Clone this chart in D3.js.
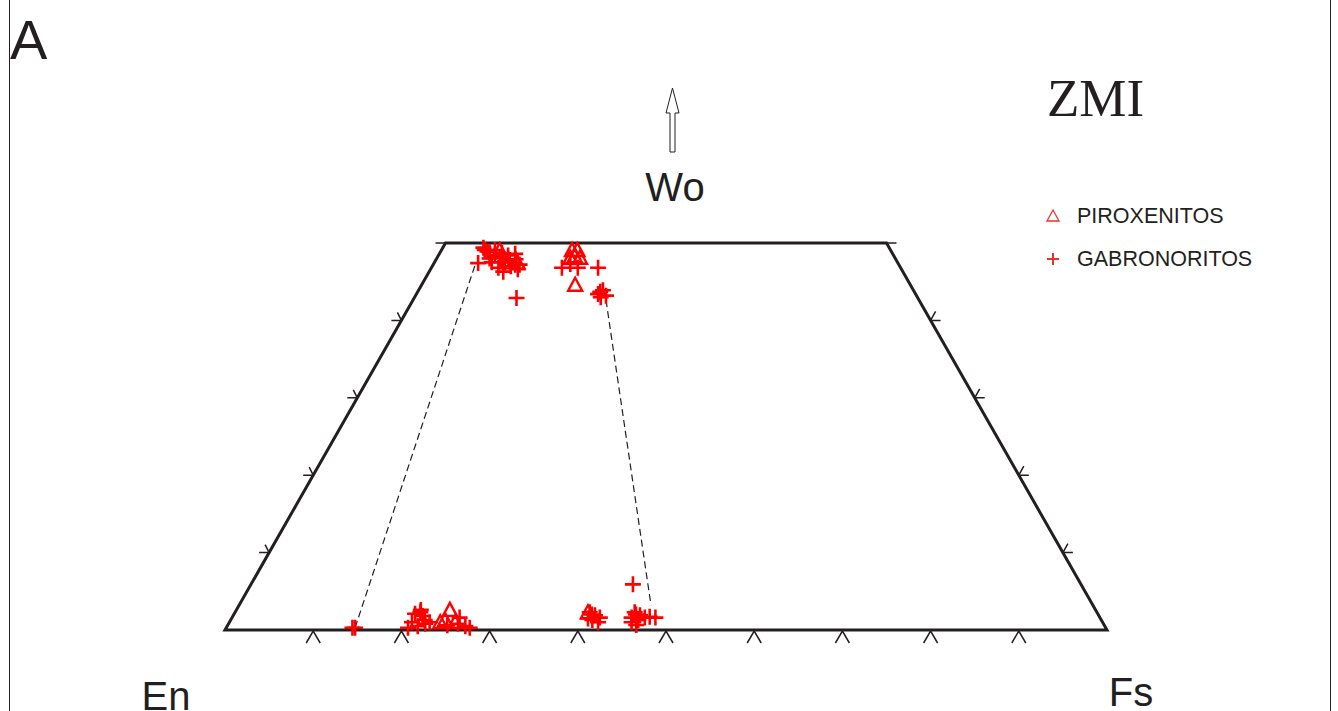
<!DOCTYPE html>
<html>
<head>
<meta charset="utf-8">
<script src="https://cdn.jsdelivr.net/npm/d3@7"></script>
<style>
    body { margin: 0; background: #fff; }
    svg { display: block; }
    .sans { font-family: "Liberation Sans", Arial, sans-serif; }
</style>
</head>
<body>
<svg id="chart" width="1338" height="711"></svg>
<script>
// pyroxene quadrilateral, values as [Wo, Fs] in mol %
var piroxenitos = [
    [49.1, 6.6], [47.5, 8.2], [47.5, 9.4],
    [49.1, 14.8], [49.1, 15.4], [48.3, 15.5], [48.1, 15.1], [48.1, 16.2], [44.6, 17.4],
    [2.6, 24.2], [1.3, 24.3], [1.0, 23.9], [1.0, 25.6],
    [2.3, 40.0]
];
var gabronoritos = [
    [47.4, 5.0], [49.1, 4.9], [48.8, 5.6], [48.4, 6.4], [48.1, 7.1], [47.5, 8.0],
    [47.8, 8.4], [47.2, 9.3], [47.2, 9.8], [46.8, 7.6], [46.3, 8.4], [47.5, 6.5],
    [49.4, 4.6], [48.4, 7.9], [42.9, 11.6], [49.1, 6.05], [48.7, 7.05],
    [48.9, 5.3], [48.0, 6.0], [47.0, 8.9], [48.6, 8.6], [47.9, 9.0], [46.6, 9.9],
    [46.8, 14.8], [46.8, 16.6], [47.3, 15.5], [46.8, 18.9],
    [43.7, 20.7], [43.2, 21.6], [43.9, 20.9], [43.4, 20.6], [43.0, 21.1],
    [0.3, 14.6], [0.3, 14.3],
    [2.1, 20.5], [2.3, 21.0], [1.3, 22.0], [1.0, 20.7], [1.0, 22.7], [0.5, 21.6], [0.3, 20.6],
    [1.8, 21.5], [2.6, 20.9], [0.8, 22.3],
    [0.8, 26.0], [0.5, 27.0], [0.3, 27.6], [0.6, 24.9], [1.6, 25.8],
    [2.3, 40.2], [1.9, 41.0], [1.6, 41.7], [1.3, 41.0], [1.0, 41.8], [2.0, 40.6], [1.5, 40.4],
    [5.9, 43.3], [2.3, 45.3], [1.6, 45.3], [1.3, 46.2], [1.9, 46.1], [1.6, 46.8],
    [1.7, 47.3], [1.6, 48.0], [0.65, 46.3], [1.0, 45.6], [2.0, 45.6]
];
// dashed tie lines, ends as [Wo, Fs]
var tieLines = [
    [[0.3, 14.6], [47.5, 4.7]],
    [[42.6, 21.9], [3.2, 46.7]]
];
var baseTicks = [10, 20, 30, 40, 50, 60, 70, 80, 90];
var sideTicks = [10, 20, 30, 40];
var legendItems = ["PIROXENITOS", "GABRONORITOS"];

var svg = d3.select("#chart");
var red = "#ff0000";
var ink = "#231f20";

// ternary -> plane: x along En-Fs plus half of Wo
var xScale = d3.scaleLinear().domain([0, 100]).range([225, 1107]);
var yScale = d3.scaleLinear().domain([0, 50]).range([630, 243]);
function px(d) { return xScale(d[1] + d[0] / 2); }
function py(d) { return yScale(d[0]); }

// frame lines
svg.append("line").attr("x1", 9.5).attr("x2", 9.5).attr("y1", 0).attr("y2", 711)
    .attr("stroke", ink).attr("stroke-width", 1);
svg.append("line").attr("x1", 1330.5).attr("x2", 1330.5).attr("y1", 0).attr("y2", 711)
    .attr("stroke", ink).attr("stroke-width", 1);

// quadrilateral outline
var corners = [[0, 0], [0, 100], [50, 50], [50, 0]];
svg.append("path")
    .attr("d", d3.line().x(px).y(py)(corners) + "Z")
    .attr("fill", "none")
    .attr("stroke", ink)
    .attr("stroke-width", 3)
    .attr("stroke-linejoin", "miter");

// ticks along the base, "^" shaped below the line
var tickG = svg.append("g").attr("stroke", ink).attr("stroke-width", 1.5).attr("fill", "none");
tickG.selectAll(".btick")
    .data(baseTicks)
    .enter()
    .append("path")
    .attr("class", "btick")
    .attr("d", function (d) {
        var x = xScale(d), y = yScale(0) + 1;
        return "M" + (x - 7) + "," + (y + 12) + "L" + x + "," + y + "L" + (x + 7) + "," + (y + 12);
    });

// ticks on the sides
tickG.selectAll(".ltick")
    .data(sideTicks)
    .enter()
    .append("path")
    .attr("class", "ltick")
    .attr("d", function (d) {
        var x = px([d, 0]), y = py([d, 0]);
        return "M" + (x - 10) + "," + y + "L" + x + "," + y +
            "M" + x + "," + y + "L" + (x - 5) + "," + (y + 9) +
            "M" + x + "," + y + "L" + (x - 4) + "," + (y - 8);
    });
tickG.selectAll(".rtick")
    .data(sideTicks)
    .enter()
    .append("path")
    .attr("class", "rtick")
    .attr("d", function (d) {
        var x = px([d, 100 - d]), y = py([d, 0]);
        return "M" + x + "," + y + "L" + (x + 10) + "," + y +
            "M" + x + "," + y + "L" + (x + 5) + "," + (y - 9) +
            "M" + x + "," + y + "L" + (x + 4) + "," + (y + 8);
    });
// corner ticks at the Wo50 line
tickG.append("path").attr("d", "M" + (px([50, 0]) - 10) + "," + py([50, 0]) + "L" + px([50, 0]) + "," + py([50, 0]));
tickG.append("path").attr("d", "M" + px([50, 50]) + "," + py([50, 0]) + "L" + (px([50, 50]) + 10) + "," + py([50, 0]));

// tie lines
svg.selectAll(".tie")
    .data(tieLines)
    .enter()
    .append("path")
    .attr("class", "tie")
    .attr("d", d3.line().x(px).y(py))
    .attr("fill", "none")
    .attr("stroke", ink)
    .attr("stroke-width", 1.2)
    .attr("stroke-dasharray", "7,4");

// symbols
var crossPath = "M-8,0H8M0,-8V8";
var triPath = "M0,-7L7,6H-7Z";

svg.selectAll(".gab")
    .data(gabronoritos)
    .enter()
    .append("path")
    .attr("class", "gab")
    .attr("transform", function (d) { return "translate(" + px(d) + "," + py(d) + ")"; })
    .attr("d", crossPath)
    .attr("stroke", red)
    .attr("stroke-width", 2.6)
    .attr("fill", "none");

svg.selectAll(".pir")
    .data(piroxenitos)
    .enter()
    .append("path")
    .attr("class", "pir")
    .attr("transform", function (d) { return "translate(" + px(d) + "," + py(d) + ")"; })
    .attr("d", triPath)
    .attr("stroke", red)
    .attr("stroke-width", 2.4)
    .attr("fill", "none");

// Wo arrow
var ax = 672.5;
svg.append("path")
    .attr("d", "M" + (ax - 2.5) + ",152V113H" + (ax - 6.5) + "L" + ax + ",88L" + (ax + 6.5) + ",113H" + (ax + 2.5) + "V152Z")
    .attr("fill", "#fff")
    .attr("stroke", ink)
    .attr("stroke-width", 1);

// labels
svg.append("text").attr("class", "sans").attr("x", 675).attr("y", 201)
    .attr("text-anchor", "middle").attr("font-size", 40).attr("fill", ink).text("Wo");
svg.append("text").attr("class", "sans").attr("x", 166).attr("y", 710)
    .attr("text-anchor", "middle").attr("font-size", 40).attr("fill", ink).text("En");
svg.append("text").attr("class", "sans").attr("x", 1131).attr("y", 706)
    .attr("text-anchor", "middle").attr("font-size", 40).attr("fill", ink).text("Fs");
svg.append("text").attr("class", "sans").attr("x", 10).attr("y", 59)
    .attr("font-size", 56).attr("fill", ink).text("A");
svg.append("text").attr("x", 1047).attr("y", 116)
    .attr("font-family", "'Liberation Serif', 'Times New Roman', serif")
    .attr("font-size", 53).attr("fill", ink).text("ZMI");

// legend
var legend = svg.selectAll(".legend")
    .data(legendItems)
    .enter()
    .append("g")
    .attr("class", "legend")
    .attr("transform", function (d, i) { return "translate(1053," + (216 + i * 43) + ")"; });
legend.append("path")
    .attr("d", function (d, i) { return i === 0 ? "M0,-6L6,5H-6Z" : "M-6,0H6M0,-6V6"; })
    .attr("stroke", "#e7332a")
    .attr("stroke-width", function (d, i) { return i === 0 ? 1.3 : 2; })
    .attr("fill", "none");
legend.append("text")
    .attr("class", "sans")
    .attr("x", 24)
    .attr("y", 7)
    .attr("font-size", 21.5)
    .attr("fill", ink)
    .text(function (d) { return d; });
</script>
</body>
</html>
